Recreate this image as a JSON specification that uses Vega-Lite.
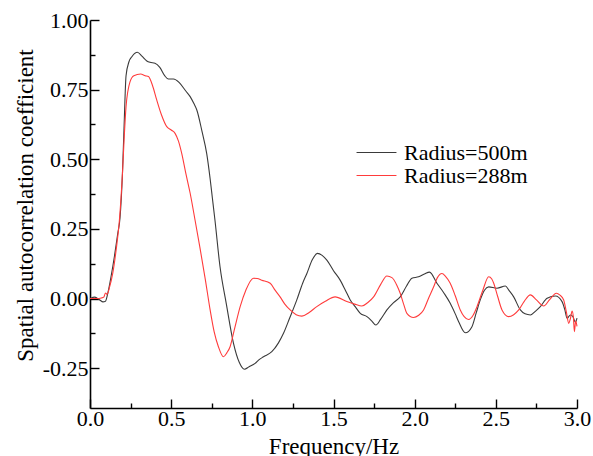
{
  "$schema": "https://vega.github.io/schema/vega-lite/v6.json",
  "width": 487,
  "height": 388,
  "autosize": "none",
  "padding": {"left": 90, "top": 20, "right": 16, "bottom": 48},
  "background": "white",
  "config": {
    "view": {"stroke": null},
    "font": "Liberation Serif",
    "axis": {"grid": false, "domainColor": "#000", "domainWidth": 1.6, "tickColor": "#000", "tickWidth": 1.4, "labelColor": "#000", "titleColor": "#000", "labelFont": "Liberation Serif", "titleFont": "Liberation Serif", "labelFontSize": 22, "titleFontSize": 23, "titleFontWeight": "normal"}
  },
  "data": {"values": [
    {"f":0.00,"r":0.000,"s":"Radius=500m"},{"f":0.03,"r":0.005,"s":"Radius=500m"},{"f":0.06,"r":-0.005,"s":"Radius=500m"},{"f":0.08,"r":-0.012,"s":"Radius=500m"},{"f":0.095,"r":-0.010,"s":"Radius=500m"},{"f":0.11,"r":0.020,"s":"Radius=500m"},{"f":0.13,"r":0.080,"s":"Radius=500m"},{"f":0.15,"r":0.150,"s":"Radius=500m"},{"f":0.17,"r":0.230,"s":"Radius=500m"},{"f":0.185,"r":0.290,"s":"Radius=500m"},{"f":0.20,"r":0.450,"s":"Radius=500m"},{"f":0.21,"r":0.620,"s":"Radius=500m"},{"f":0.222,"r":0.800,"s":"Radius=500m"},{"f":0.24,"r":0.850,"s":"Radius=500m"},{"f":0.26,"r":0.870,"s":"Radius=500m"},{"f":0.292,"r":0.884,"s":"Radius=500m"},{"f":0.32,"r":0.870,"s":"Radius=500m"},{"f":0.35,"r":0.853,"s":"Radius=500m"},{"f":0.37,"r":0.848,"s":"Radius=500m"},{"f":0.40,"r":0.845,"s":"Radius=500m"},{"f":0.43,"r":0.830,"s":"Radius=500m"},{"f":0.46,"r":0.800,"s":"Radius=500m"},{"f":0.483,"r":0.788,"s":"Radius=500m"},{"f":0.514,"r":0.788,"s":"Radius=500m"},{"f":0.55,"r":0.775,"s":"Radius=500m"},{"f":0.59,"r":0.745,"s":"Radius=500m"},{"f":0.617,"r":0.725,"s":"Radius=500m"},{"f":0.64,"r":0.700,"s":"Radius=500m"},{"f":0.658,"r":0.677,"s":"Radius=500m"},{"f":0.69,"r":0.600,"s":"Radius=500m"},{"f":0.719,"r":0.520,"s":"Radius=500m"},{"f":0.74,"r":0.430,"s":"Radius=500m"},{"f":0.754,"r":0.360,"s":"Radius=500m"},{"f":0.77,"r":0.280,"s":"Radius=500m"},{"f":0.801,"r":0.114,"s":"Radius=500m"},{"f":0.84,"r":-0.020,"s":"Radius=500m"},{"f":0.884,"r":-0.161,"s":"Radius=500m"},{"f":0.92,"r":-0.230,"s":"Radius=500m"},{"f":0.951,"r":-0.254,"s":"Radius=500m"},{"f":0.98,"r":-0.245,"s":"Radius=500m"},{"f":1.017,"r":-0.233,"s":"Radius=500m"},{"f":1.04,"r":-0.220,"s":"Radius=500m"},{"f":1.069,"r":-0.209,"s":"Radius=500m"},{"f":1.12,"r":-0.191,"s":"Radius=500m"},{"f":1.16,"r":-0.160,"s":"Radius=500m"},{"f":1.192,"r":-0.125,"s":"Radius=500m"},{"f":1.23,"r":-0.070,"s":"Radius=500m"},{"f":1.274,"r":-0.005,"s":"Radius=500m"},{"f":1.31,"r":0.055,"s":"Radius=500m"},{"f":1.336,"r":0.090,"s":"Radius=500m"},{"f":1.37,"r":0.140,"s":"Radius=500m"},{"f":1.401,"r":0.162,"s":"Radius=500m"},{"f":1.43,"r":0.155,"s":"Radius=500m"},{"f":1.459,"r":0.138,"s":"Radius=500m"},{"f":1.50,"r":0.100,"s":"Radius=500m"},{"f":1.541,"r":0.066,"s":"Radius=500m"},{"f":1.573,"r":0.030,"s":"Radius=500m"},{"f":1.603,"r":-0.005,"s":"Radius=500m"},{"f":1.635,"r":-0.030,"s":"Radius=500m"},{"f":1.665,"r":-0.053,"s":"Radius=500m"},{"f":1.706,"r":-0.065,"s":"Radius=500m"},{"f":1.735,"r":-0.080,"s":"Radius=500m"},{"f":1.761,"r":-0.095,"s":"Radius=500m"},{"f":1.79,"r":-0.075,"s":"Radius=500m"},{"f":1.829,"r":-0.041,"s":"Radius=500m"},{"f":1.87,"r":-0.015,"s":"Radius=500m"},{"f":1.911,"r":0.006,"s":"Radius=500m"},{"f":1.95,"r":0.045,"s":"Radius=500m"},{"f":1.983,"r":0.073,"s":"Radius=500m"},{"f":2.024,"r":0.078,"s":"Radius=500m"},{"f":2.06,"r":0.088,"s":"Radius=500m"},{"f":2.092,"r":0.095,"s":"Radius=500m"},{"f":2.137,"r":0.055,"s":"Radius=500m"},{"f":2.18,"r":0.020,"s":"Radius=500m"},{"f":2.219,"r":-0.017,"s":"Radius=500m"},{"f":2.25,"r":-0.055,"s":"Radius=500m"},{"f":2.271,"r":-0.083,"s":"Radius=500m"},{"f":2.312,"r":-0.123,"s":"Radius=500m"},{"f":2.353,"r":-0.101,"s":"Radius=500m"},{"f":2.38,"r":-0.050,"s":"Radius=500m"},{"f":2.404,"r":-0.005,"s":"Radius=500m"},{"f":2.43,"r":0.030,"s":"Radius=500m"},{"f":2.456,"r":0.042,"s":"Radius=500m"},{"f":2.507,"r":0.037,"s":"Radius=500m"},{"f":2.559,"r":0.045,"s":"Radius=500m"},{"f":2.58,"r":0.030,"s":"Radius=500m"},{"f":2.61,"r":0.006,"s":"Radius=500m"},{"f":2.651,"r":-0.041,"s":"Radius=500m"},{"f":2.68,"r":-0.055,"s":"Radius=500m"},{"f":2.713,"r":-0.059,"s":"Radius=500m"},{"f":2.745,"r":-0.045,"s":"Radius=500m"},{"f":2.774,"r":-0.029,"s":"Radius=500m"},{"f":2.816,"r":0.001,"s":"Radius=500m"},{"f":2.867,"r":0.009,"s":"Radius=500m"},{"f":2.908,"r":-0.011,"s":"Radius=500m"},{"f":2.925,"r":-0.040,"s":"Radius=500m"},{"f":2.939,"r":-0.071,"s":"Radius=500m"},{"f":2.959,"r":-0.059,"s":"Radius=500m"},{"f":2.975,"r":-0.065,"s":"Radius=500m"},{"f":2.99,"r":-0.085,"s":"Radius=500m"},{"f":3.0,"r":-0.070,"s":"Radius=500m"},
    {"f":0.00,"r":0.000,"s":"Radius=288m"},{"f":0.04,"r":0.000,"s":"Radius=288m"},{"f":0.07,"r":0.002,"s":"Radius=288m"},{"f":0.085,"r":0.005,"s":"Radius=288m"},{"f":0.095,"r":0.020,"s":"Radius=288m"},{"f":0.105,"r":0.015,"s":"Radius=288m"},{"f":0.12,"r":0.040,"s":"Radius=288m"},{"f":0.14,"r":0.090,"s":"Radius=288m"},{"f":0.16,"r":0.170,"s":"Radius=288m"},{"f":0.181,"r":0.280,"s":"Radius=288m"},{"f":0.20,"r":0.450,"s":"Radius=288m"},{"f":0.21,"r":0.570,"s":"Radius=288m"},{"f":0.222,"r":0.689,"s":"Radius=288m"},{"f":0.247,"r":0.779,"s":"Radius=288m"},{"f":0.27,"r":0.800,"s":"Radius=288m"},{"f":0.312,"r":0.806,"s":"Radius=288m"},{"f":0.34,"r":0.800,"s":"Radius=288m"},{"f":0.36,"r":0.797,"s":"Radius=288m"},{"f":0.385,"r":0.765,"s":"Radius=288m"},{"f":0.411,"r":0.713,"s":"Radius=288m"},{"f":0.44,"r":0.660,"s":"Radius=288m"},{"f":0.473,"r":0.617,"s":"Radius=288m"},{"f":0.50,"r":0.605,"s":"Radius=288m"},{"f":0.524,"r":0.593,"s":"Radius=288m"},{"f":0.545,"r":0.565,"s":"Radius=288m"},{"f":0.565,"r":0.521,"s":"Radius=288m"},{"f":0.59,"r":0.450,"s":"Radius=288m"},{"f":0.617,"r":0.378,"s":"Radius=288m"},{"f":0.647,"r":0.282,"s":"Radius=288m"},{"f":0.678,"r":0.180,"s":"Radius=288m"},{"f":0.71,"r":0.070,"s":"Radius=288m"},{"f":0.74,"r":-0.041,"s":"Radius=288m"},{"f":0.765,"r":-0.120,"s":"Radius=288m"},{"f":0.791,"r":-0.173,"s":"Radius=288m"},{"f":0.822,"r":-0.209,"s":"Radius=288m"},{"f":0.843,"r":-0.195,"s":"Radius=288m"},{"f":0.863,"r":-0.173,"s":"Radius=288m"},{"f":0.89,"r":-0.110,"s":"Radius=288m"},{"f":0.925,"r":-0.029,"s":"Radius=288m"},{"f":0.96,"r":0.030,"s":"Radius=288m"},{"f":1.007,"r":0.073,"s":"Radius=288m"},{"f":1.03,"r":0.072,"s":"Radius=288m"},{"f":1.058,"r":0.066,"s":"Radius=288m"},{"f":1.11,"r":0.055,"s":"Radius=288m"},{"f":1.14,"r":0.030,"s":"Radius=288m"},{"f":1.171,"r":0.006,"s":"Radius=288m"},{"f":1.20,"r":-0.020,"s":"Radius=288m"},{"f":1.233,"r":-0.041,"s":"Radius=288m"},{"f":1.27,"r":-0.058,"s":"Radius=288m"},{"f":1.305,"r":-0.063,"s":"Radius=288m"},{"f":1.35,"r":-0.050,"s":"Radius=288m"},{"f":1.397,"r":-0.029,"s":"Radius=288m"},{"f":1.45,"r":-0.010,"s":"Radius=288m"},{"f":1.51,"r":0.006,"s":"Radius=288m"},{"f":1.582,"r":-0.011,"s":"Radius=288m"},{"f":1.63,"r":-0.020,"s":"Radius=288m"},{"f":1.675,"r":-0.027,"s":"Radius=288m"},{"f":1.71,"r":-0.015,"s":"Radius=288m"},{"f":1.747,"r":0.006,"s":"Radius=288m"},{"f":1.79,"r":0.050,"s":"Radius=288m"},{"f":1.829,"r":0.081,"s":"Radius=288m"},{"f":1.86,"r":0.075,"s":"Radius=288m"},{"f":1.89,"r":0.048,"s":"Radius=288m"},{"f":1.911,"r":0.019,"s":"Radius=288m"},{"f":1.932,"r":-0.020,"s":"Radius=288m"},{"f":1.952,"r":-0.053,"s":"Radius=288m"},{"f":1.993,"r":-0.068,"s":"Radius=288m"},{"f":2.025,"r":-0.060,"s":"Radius=288m"},{"f":2.055,"r":-0.041,"s":"Radius=288m"},{"f":2.085,"r":0.000,"s":"Radius=288m"},{"f":2.117,"r":0.042,"s":"Radius=288m"},{"f":2.14,"r":0.075,"s":"Radius=288m"},{"f":2.168,"r":0.090,"s":"Radius=288m"},{"f":2.19,"r":0.080,"s":"Radius=288m"},{"f":2.219,"r":0.055,"s":"Radius=288m"},{"f":2.25,"r":0.010,"s":"Radius=288m"},{"f":2.281,"r":-0.041,"s":"Radius=288m"},{"f":2.305,"r":-0.065,"s":"Radius=288m"},{"f":2.332,"r":-0.075,"s":"Radius=288m"},{"f":2.36,"r":-0.060,"s":"Radius=288m"},{"f":2.384,"r":-0.029,"s":"Radius=288m"},{"f":2.42,"r":0.030,"s":"Radius=288m"},{"f":2.456,"r":0.078,"s":"Radius=288m"},{"f":2.475,"r":0.070,"s":"Radius=288m"},{"f":2.487,"r":0.055,"s":"Radius=288m"},{"f":2.51,"r":0.010,"s":"Radius=288m"},{"f":2.538,"r":-0.041,"s":"Radius=288m"},{"f":2.579,"r":-0.065,"s":"Radius=288m"},{"f":2.61,"r":-0.058,"s":"Radius=288m"},{"f":2.641,"r":-0.041,"s":"Radius=288m"},{"f":2.675,"r":-0.010,"s":"Radius=288m"},{"f":2.713,"r":0.013,"s":"Radius=288m"},{"f":2.75,"r":-0.005,"s":"Radius=288m"},{"f":2.795,"r":-0.027,"s":"Radius=288m"},{"f":2.83,"r":-0.005,"s":"Radius=288m"},{"f":2.873,"r":0.019,"s":"Radius=288m"},{"f":2.895,"r":0.012,"s":"Radius=288m"},{"f":2.918,"r":-0.005,"s":"Radius=288m"},{"f":2.935,"r":-0.050,"s":"Radius=288m"},{"f":2.949,"r":-0.089,"s":"Radius=288m"},{"f":2.96,"r":-0.070,"s":"Radius=288m"},{"f":2.97,"r":-0.045,"s":"Radius=288m"},{"f":2.978,"r":-0.070,"s":"Radius=288m"},{"f":2.984,"r":-0.119,"s":"Radius=288m"},{"f":2.992,"r":-0.080,"s":"Radius=288m"},{"f":3.0,"r":-0.100,"s":"Radius=288m"}
  ]},
  "mark": {"type": "line", "interpolate": "monotone", "strokeWidth": 1.1, "clip": false},
  "encoding": {
    "x": {"field": "f", "type": "quantitative", "title": "Frequency/Hz",
      "scale": {"domain": [0, 3], "nice": false, "zero": false},
      "axis": {"values": [0,0.25,0.5,0.75,1,1.25,1.5,1.75,2,2.25,2.5,2.75,3],
        "labelExpr": "abs(datum.value*2 - round(datum.value*2)) < 0.001 ? format(datum.value, '.1f') : ''",
        "tickSize": {"condition": {"test": "abs(datum.value*2 - round(datum.value*2)) < 0.001", "value": -9}, "value": -5},
        "labelPadding": 9, "titlePadding": 2, "labelFlush": false, "labelOverlap": false}},
    "y": {"field": "r", "type": "quantitative", "title": "Spatial autocorrelation coefficient",
      "scale": {"domain": [-0.393, 1.0], "nice": false, "zero": false},
      "axis": {"values": [-0.25,-0.125,0,0.125,0.25,0.375,0.5,0.625,0.75,0.875,1],
        "labelExpr": "abs(datum.value*4 - round(datum.value*4)) < 0.001 ? replace(format(datum.value, '.2f'), '\u2212', '-') : ''",
        "tickSize": {"condition": {"test": "abs(datum.value*4 - round(datum.value*4)) < 0.001", "value": -9}, "value": -5},
        "labelPadding": 11, "titlePadding": 5, "titleY": 185, "labelFlush": false, "labelOverlap": false}},
    "color": {"field": "s", "type": "nominal", "sort": ["Radius=500m", "Radius=288m"],
      "scale": {"domain": ["Radius=500m", "Radius=288m"], "range": ["#3a3a3a", "#ff3b3b"]},
      "legend": {"title": null, "orient": "none", "legendX": 275, "legendY": 121,
        "symbolType": "M-1.9,0H1.9", "symbolSize": 441, "symbolStrokeWidth": 1.2,
        "labelFont": "Liberation Serif", "labelFontSize": 22, "labelColor": "#000",
        "labelOffset": 16, "rowPadding": 0, "padding": 0}}
  }
}
